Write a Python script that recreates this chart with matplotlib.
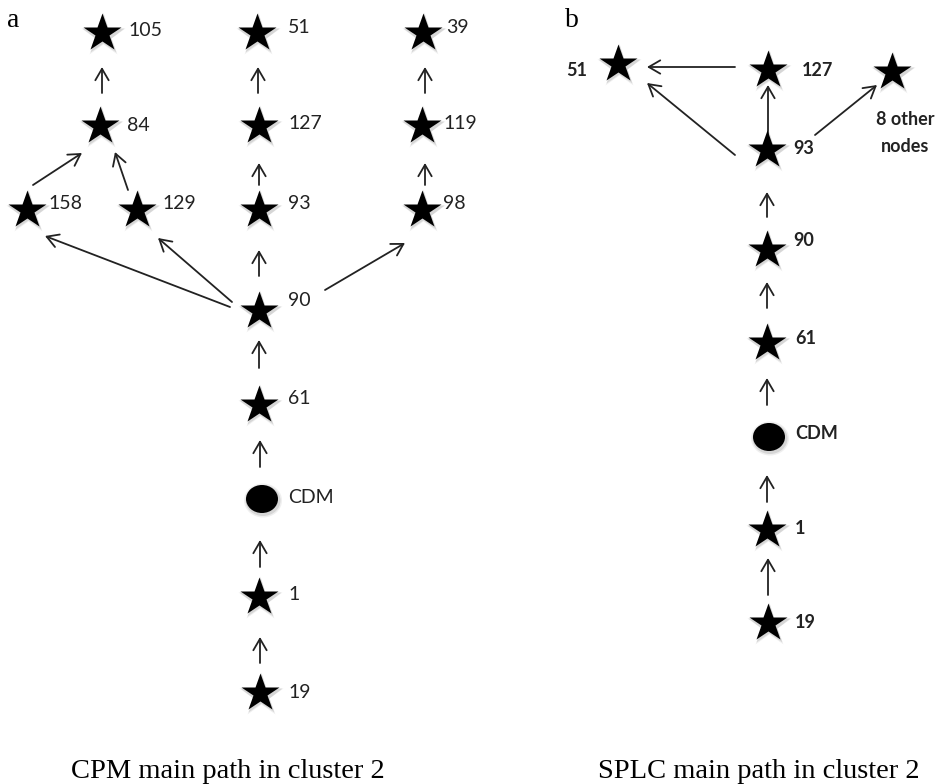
import matplotlib
matplotlib.use("Agg")
import matplotlib.pyplot as plt
from matplotlib.patches import Ellipse

# ---------------- data ----------------
panel_letters = ["a", "b"]
captions = ["CPM main path in cluster 2", "SPLC main path in cluster 2"]

cpm_nodes = ["105", "51", "39", "84", "127", "119", "158", "129", "93", "98",
             "90", "61", "CDM", "1", "19"]
cpm_edges = [("84", "105"), ("127", "51"), ("119", "39"), ("93", "127"),
             ("98", "119"), ("158", "84"), ("129", "84"), ("90", "158"),
             ("90", "129"), ("90", "93"), ("90", "98"), ("61", "90"),
             ("CDM", "61"), ("1", "CDM"), ("19", "1")]

splc_nodes = ["51", "127", "8 other\nnodes", "93", "90", "61", "CDM", "1", "19"]
splc_edges = [("127", "51"), ("93", "51"), ("93", "127"), ("93", "8 other\nnodes"),
              ("90", "93"), ("61", "90"), ("CDM", "61"), ("1", "CDM"), ("19", "1")]

circle_nodes = ["CDM"]

# ---------------- layout (pixel coordinates) ----------------
cpm_pos = {"105": (102, 33), "51": (257, 33), "39": (423, 33),
           "84": (100, 126), "127": (259, 126), "119": (422, 126),
           "158": (27, 210), "129": (137, 210), "93": (259, 210), "98": (422, 210),
           "90": (259, 311), "61": (259, 405), "CDM": (262, 499),
           "1": (259, 597), "19": (260, 693)}
cpm_lab = {"105": (26, -3), "51": (31, -6), "39": (23, -6), "84": (27, -1),
           "127": (29, -3), "119": (21, -3), "158": (21, -7), "129": (25, -7),
           "93": (29, -7), "98": (21, -7), "90": (29, -11), "61": (29, -7),
           "CDM": (26, -2), "1": (29, -2), "19": (28, -1)}
cpm_arrow = {("84", "105"): ((2, -33), (0, 34)), ("127", "51"): ((-1, -33), (1, 34)),
             ("119", "39"): ((3, -33), (2, 34)), ("93", "127"): ((0, -25), (0, 37)),
             ("98", "119"): ((3, -25), (3, 37)), ("158", "84"): ((6, -25), (-18, 27)),
             ("129", "84"): ((-9, -20), (15, 26)), ("90", "158"): ((-29, -4), (18, 26)),
             ("90", "129"): ((-27, -9), (21, 28)), ("90", "93"): ((0, -35), (0, 40)),
             ("90", "98"): ((66, -21), (-17, 33)), ("61", "90"): ((0, -37), (0, 29)),
             ("CDM", "61"): ((-2, -32), (1, 35)), ("1", "CDM"): ((1, -30), (-2, 41)),
             ("19", "1"): ((0, -30), (1, 40))}

splc_pos = {"51": (618, 64), "127": (768, 70), "8 other\nnodes": (892, 72),
            "93": (767, 150), "90": (767, 250), "61": (767, 343),
            "CDM": (769, 437), "1": (767, 530), "19": (768, 623)}
splc_lab = {"51": (-31, 6, "right"), "127": (34, 0, "left"),
            "8 other\nnodes": (13, 61, "center"), "93": (26, -2, "left"),
            "90": (26, -10, "left"), "61": (28, -5, "left"), "CDM": (26, -4, "left"),
            "1": (28, -1, "left"), "19": (27, 0, "left")}
splc_arrow = {("127", "51"): ((-33, -3), (29, 3)), ("93", "51"): ((-32, 5), (29, 19)),
              ("93", "127"): ((1, -13), (0, 15)),
              ("93", "8 other\nnodes"): ((48, -15), (-15, 13)),
              ("90", "93"): ((0, -33), (0, 42)), ("61", "90"): ((0, -35), (0, 32)),
              ("CDM", "61"): ((-2, -32), (0, 35)), ("1", "CDM"): ((0, -28), (-2, 38)),
              ("19", "1"): ((0, -28), (1, 28))}

letter_pos = [(13, 27), (572, 27)]
caption_pos = [(228, 778), (759, 778)]

# ---------------- drawing ----------------
fig = plt.figure(figsize=(9.43, 7.84), dpi=100)
ax = fig.add_axes([0, 0, 1, 1])
ax.set_xlim(0, 943)
ax.set_ylim(784, 0)
ax.axis("off")

STAR_MS = 29
label_font = ["Lato", "DejaVu Sans"]
serif_font = ["Liberation Serif", "DejaVu Serif"]


def draw_node(name, x, y):
    if name in circle_nodes:
        for grow, a in [(6, 0.10), (3, 0.18)]:
            ax.add_patch(Ellipse((x + 1, y + 1.5), 32 + grow, 28 + grow,
                                 facecolor="0.4", edgecolor="none", alpha=a, zorder=2))
        ax.add_patch(Ellipse((x, y), 32, 28, facecolor="black", edgecolor="none", zorder=3))
    else:
        for grow, a in [(6, 0.10), (3, 0.18)]:
            ax.plot([x + 1], [y + 1.5], marker="*", ms=STAR_MS + grow * 0.7,
                    color="0.4", alpha=a, ls="none", mec="none", zorder=2)
        ax.plot([x], [y], marker="*", ms=STAR_MS, color="black", ls="none",
                mec="none", zorder=3)


def draw_arrow(p0, p1):
    ax.annotate("", xy=p1, xytext=p0,
                arrowprops=dict(arrowstyle="->,head_length=0.55,head_width=0.32",
                                lw=1.3, color="#222222", shrinkA=0, shrinkB=0,
                                mutation_scale=15),
                zorder=1)


# panel a
for name in cpm_nodes:
    x, y = cpm_pos[name]
    draw_node(name, x, y)
    dx, dy = cpm_lab[name]
    ax.text(x + dx, y + dy, name, ha="left", va="center", fontsize=14,
            family=label_font, color="#222222")
for (s, d) in cpm_edges:
    (sx, sy), (ex, ey) = cpm_arrow[(s, d)]
    x0, y0 = cpm_pos[s]
    x1, y1 = cpm_pos[d]
    draw_arrow((x0 + sx, y0 + sy), (x1 + ex, y1 + ey))

# panel b
for name in splc_nodes:
    x, y = splc_pos[name]
    draw_node(name, x, y)
    dx, dy, ha = splc_lab[name]
    ax.text(x + dx, y + dy, name, ha=ha, va="center", fontsize=13,
            family=label_font, fontweight="bold", color="#222222",
            linespacing=1.7)
for (s, d) in splc_edges:
    (sx, sy), (ex, ey) = splc_arrow[(s, d)]
    x0, y0 = splc_pos[s]
    x1, y1 = splc_pos[d]
    draw_arrow((x0 + sx, y0 + sy), (x1 + ex, y1 + ey))

for letter, (x, y) in zip(panel_letters, letter_pos):
    ax.text(x, y, letter, ha="center", va="baseline", fontsize=20, family=serif_font)
for cap, (x, y) in zip(captions, caption_pos):
    ax.text(x, y, cap, ha="center", va="baseline", fontsize=20.5, family=serif_font)

fig.savefig("out.png", dpi=100)
